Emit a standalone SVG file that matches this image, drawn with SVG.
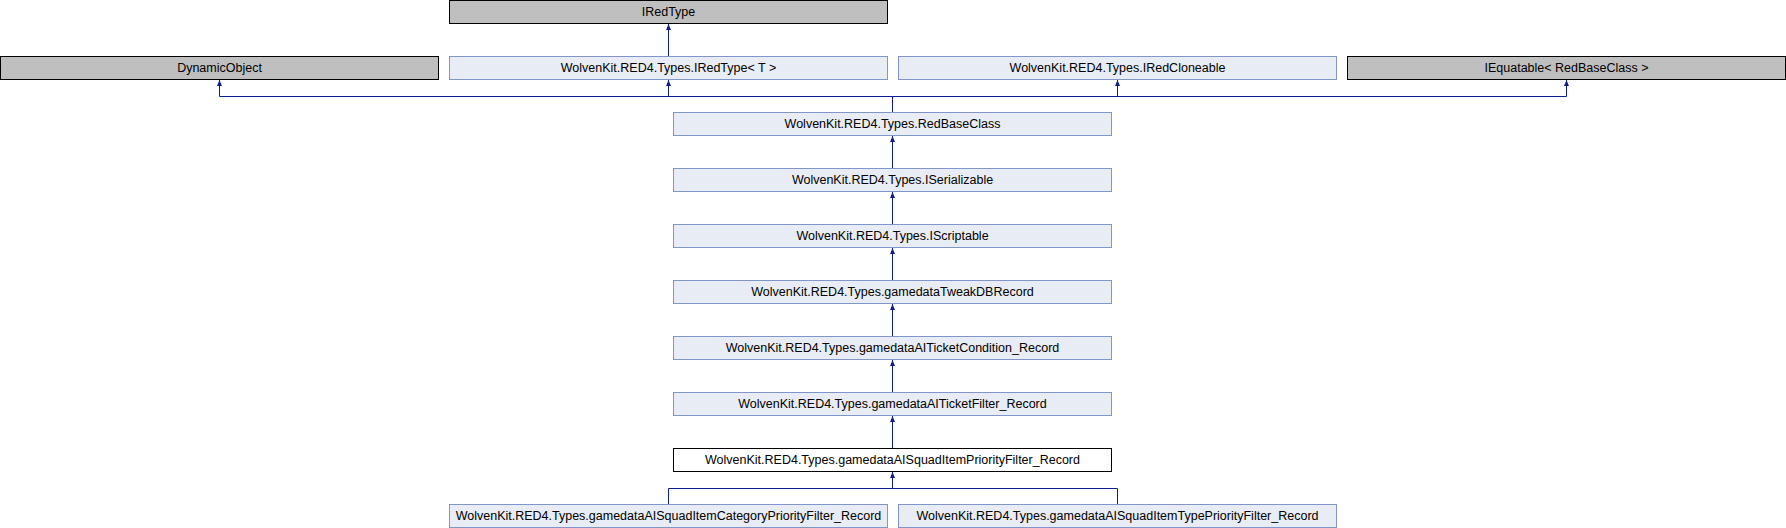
<svg xmlns="http://www.w3.org/2000/svg" width="1786" height="528" viewBox="0 0 1786 528">
<style>
.n rect{fill:#E8ECF4;stroke:#8096CA;stroke-width:1}
.g rect{fill:#BFBFBF;stroke:#000;stroke-width:1}
.c rect{fill:#FFFFFF;stroke:#000;stroke-width:1}
text{font-family:"Liberation Sans",Arial,sans-serif;font-size:12.5px;fill:#000;text-anchor:middle}
.e path{fill:none;stroke:#0A1C96;stroke-width:1}
.e path.a{marker-end:url(#arr)}
</style>
<defs>
<marker id="arr" markerUnits="userSpaceOnUse" markerWidth="8" markerHeight="8" refX="6" refY="3" orient="auto">
<path d="M0,0.5 L6,3 L0,5.5 Z" fill="#0A1C96" stroke="none"/>
</marker>
</defs>
<rect width="1786" height="528" fill="#fff"/>
<g class="e" id="edges">
<path class="a" d="M668.5,56.5 V24"/>
<path d="M892.5,112.5 V96.5 M219.5,96.5 H1566.5"/>
<path class="a" d="M219.5,96.5 V80"/>
<path class="a" d="M668.5,96.5 V80"/>
<path class="a" d="M1117.5,96.5 V80"/>
<path class="a" d="M1566.5,96.5 V80"/>
<path class="a" d="M892.5,168.5 V136"/>
<path class="a" d="M892.5,224.5 V192"/>
<path class="a" d="M892.5,280.5 V248"/>
<path class="a" d="M892.5,336.5 V304"/>
<path class="a" d="M892.5,392.5 V360"/>
<path class="a" d="M892.5,448.5 V416"/>
<path d="M668.5,504.5 V488.5 H1117.5 V504.5"/>
<path class="a" d="M892.5,488.5 V472"/>
</g>
<g id="IRedType" class="g"><rect x="449.5" y="0.5" width="438" height="23"/><text x="668.5" y="15.5">IRedType</text></g>
<g id="DynamicObject" class="g"><rect x="0.5" y="56.5" width="438" height="23"/><text x="219.5" y="71.5">DynamicObject</text></g>
<g id="IRedTypeT" class="n"><rect x="449.5" y="56.5" width="438" height="23"/><text x="668.5" y="71.5">WolvenKit.RED4.Types.IRedType&lt; T &gt;</text></g>
<g id="IRedCloneable" class="n"><rect x="898.5" y="56.5" width="438" height="23"/><text x="1117.5" y="71.5">WolvenKit.RED4.Types.IRedCloneable</text></g>
<g id="IEquatable" class="g"><rect x="1347.5" y="56.5" width="438" height="23"/><text x="1566.5" y="71.5">IEquatable&lt; RedBaseClass &gt;</text></g>
<g id="RedBaseClass" class="n"><rect x="673.5" y="112.5" width="438" height="23"/><text x="892.5" y="127.5">WolvenKit.RED4.Types.RedBaseClass</text></g>
<g id="ISerializable" class="n"><rect x="673.5" y="168.5" width="438" height="23"/><text x="892.5" y="183.5">WolvenKit.RED4.Types.ISerializable</text></g>
<g id="IScriptable" class="n"><rect x="673.5" y="224.5" width="438" height="23"/><text x="892.5" y="239.5">WolvenKit.RED4.Types.IScriptable</text></g>
<g id="TweakDBRecord" class="n"><rect x="673.5" y="280.5" width="438" height="23"/><text x="892.5" y="295.5">WolvenKit.RED4.Types.gamedataTweakDBRecord</text></g>
<g id="AITicketCondition" class="n"><rect x="673.5" y="336.5" width="438" height="23"/><text x="892.5" y="351.5">WolvenKit.RED4.Types.gamedataAITicketCondition_Record</text></g>
<g id="AITicketFilter" class="n"><rect x="673.5" y="392.5" width="438" height="23"/><text x="892.5" y="407.5">WolvenKit.RED4.Types.gamedataAITicketFilter_Record</text></g>
<g id="AISquadItemPriorityFilter" class="c"><rect x="673.5" y="448.5" width="438" height="23"/><text x="892.5" y="463.5">WolvenKit.RED4.Types.gamedataAISquadItemPriorityFilter_Record</text></g>
<g id="AISquadItemCategoryPriorityFilter" class="n"><rect x="449.5" y="504.5" width="438" height="23"/><text x="668.5" y="519.5">WolvenKit.RED4.Types.gamedataAISquadItemCategoryPriorityFilter_Record</text></g>
<g id="AISquadItemTypePriorityFilter" class="n"><rect x="898.5" y="504.5" width="438" height="23"/><text x="1117.5" y="519.5">WolvenKit.RED4.Types.gamedataAISquadItemTypePriorityFilter_Record</text></g>
</svg>
